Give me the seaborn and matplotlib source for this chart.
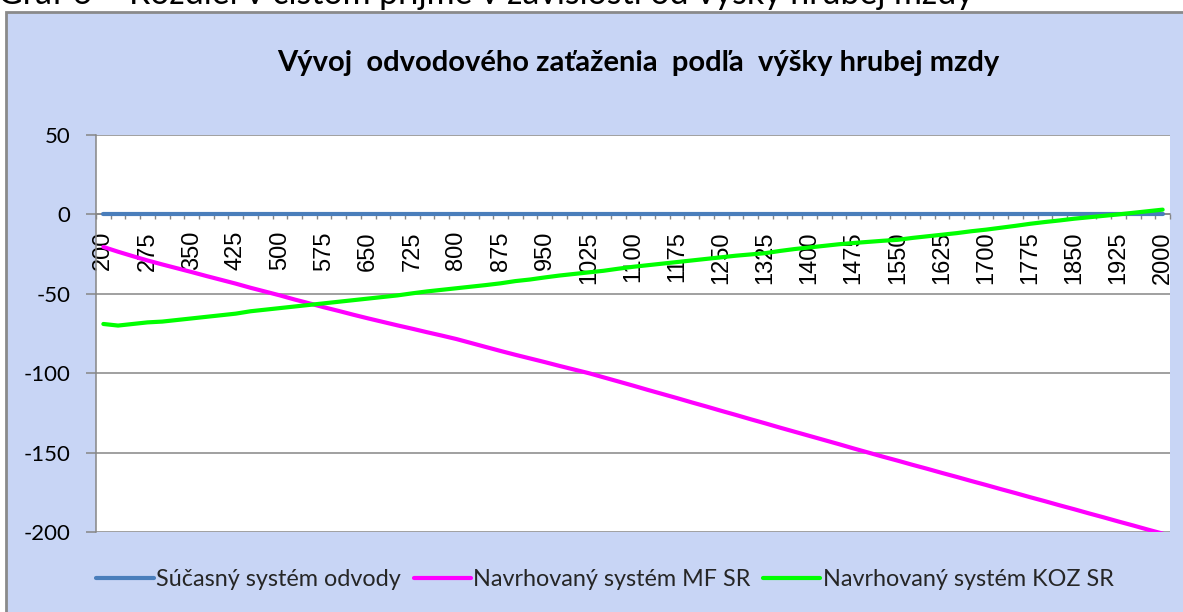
import numpy as np
import pandas as pd
import matplotlib
matplotlib.use("Agg")
import matplotlib.pyplot as plt
import seaborn as sns
from matplotlib.patches import Rectangle
from matplotlib.lines import Line2D

# ---------------- data ----------------
categories = list(range(200, 2001, 25))

current_system = [0, 0, 0, 0, 0, 0, 0, 0, 0, 0, 0, 0, 0, 0, 0, 0, 0, 0, 0, 0,
                  0, 0, 0, 0, 0, 0, 0, 0, 0, 0, 0, 0, 0, 0, 0, 0, 0, 0, 0, 0,
                  0, 0, 0, 0, 0, 0, 0, 0, 0, 0, 0, 0, 0, 0, 0, 0, 0, 0, 0, 0,
                  0, 0, 0, 0, 0, 0, 0, 0, 0, 0, 0, 0, 0]

mf_sr = [-20.5, -23.5, -26.3, -29.0, -31.5, -33.9, -36.3, -38.8, -41.2, -43.6,
         -46.2, -48.6, -51.0, -53.6, -56.0, -58.5, -60.8, -63.2, -65.5, -67.7,
         -69.9, -72.0, -74.2, -76.3, -78.5, -81.0, -83.5, -86.0, -88.4, -90.7,
         -93.0, -95.4, -97.7, -100.0, -102.6, -105.2, -107.8, -110.5, -113.1, -115.7,
         -118.4, -121.0, -123.7, -126.3, -129.0, -131.6, -134.3, -136.9, -139.5, -142.1,
         -144.7, -147.4, -150.0, -152.6, -155.1, -157.7, -160.2, -162.8, -165.3, -167.9,
         -170.4, -173.0, -175.5, -178.1, -180.6, -183.2, -185.7, -188.3, -190.8, -193.4,
         -195.9, -198.5, -201.0]

koz_sr = [-69.0, -70.0, -69.0, -68.0, -67.5, -66.5, -65.5, -64.5, -63.5, -62.5,
          -61.0, -60.0, -59.0, -58.0, -57.0, -56.0, -55.0, -54.0, -53.0, -52.0,
          -51.0, -49.7, -48.5, -47.5, -46.5, -45.5, -44.5, -43.4, -42.0, -41.0,
          -39.7, -38.5, -37.5, -36.5, -35.5, -34.2, -33.0, -32.0, -31.0, -30.0,
          -29.0, -28.0, -27.0, -26.0, -25.2, -24.4, -23.0, -21.8, -20.8, -19.8,
          -18.8, -18.0, -17.3, -16.6, -16.0, -14.8, -13.8, -12.8, -11.8, -10.6,
          -9.6, -8.4, -7.2, -5.9, -4.8, -3.8, -2.7, -1.8, -0.9, 0.0,
          1.0, 2.0, 3.0]

series_names = ["Súčasný systém odvody", "Navrhovaný systém MF SR", "Navrhovaný systém KOZ SR"]
series_colors = ["#4A7EBB", "#FF00FF", "#00FF00"]
y_ticks = [-200, -150, -100, -50, 0, 50]
label_every = 3

title = "Vývoj  odvodového zaťaženia  podľa  výšky hrubej mzdy"
top_caption = "Graf 6 – Rozdiel v čistom príjme v závislosti od výšky hrubej mzdy"

# ---------------- style ----------------
sns.set_theme(style="white")
plt.rcParams["font.family"] = ["Lato", "DejaVu Sans"]

W, H = 1183, 612
fig = plt.figure(figsize=(W / 100, H / 100), dpi=100)
fig.patch.set_facecolor("white")

bg = Rectangle((6 / W, -0.05), 1.2, (H - 12) / H + 0.05, transform=fig.transFigure,
               facecolor="#c8d5f5", edgecolor="#8a8a8a", linewidth=2.0, zorder=-10)
fig.patches.append(bg)

ax = fig.add_axes([96 / W, 1 - 532 / H, (1170 - 96) / W, (532 - 135) / H])
ax.set_zorder(5)
ax.set_facecolor("white")

pos = list(range(len(categories)))
df = pd.DataFrame({
    "pos": pos * 3,
    "value": current_system + mf_sr + koz_sr,
    "series": [series_names[0]] * len(pos) + [series_names[1]] * len(pos) + [series_names[2]] * len(pos),
})
sns.lineplot(data=df, x="pos", y="value", hue="series", hue_order=series_names,
             palette=series_colors, linewidth=3.0, ax=ax, legend=False, sort=False, zorder=3)

ax.set_xlim(-0.45, len(categories) - 0.55)
ax.set_ylim(min(y_ticks), max(y_ticks))
ax.set_xlabel("")
ax.set_ylabel("")

grid_c = "#868686"
ax.set_yticks(y_ticks)
ax.set_yticklabels([str(v) for v in y_ticks])
ax.yaxis.grid(True, color=grid_c, linewidth=1.1)
ax.xaxis.grid(False)
ax.set_axisbelow(True)

for s in ["top", "right"]:
    ax.spines[s].set_visible(False)
ax.spines["left"].set_color(grid_c)
ax.spines["left"].set_linewidth(1.1)
ax.spines["bottom"].set_position(("data", 0))
ax.spines["bottom"].set_color(grid_c)
ax.spines["bottom"].set_linewidth(1.1)

ax.tick_params(axis="y", direction="out", length=7.2, width=1.1, color=grid_c,
               labelsize=16, pad=11, labelcolor="black", left=True)

major_pos = pos[::label_every]
ax.set_xticks(major_pos)
ax.set_xticklabels([str(categories[i]) for i in major_pos], rotation=90,
                   fontfamily="Liberation Sans", fontsize=17)
ax.set_xticks([p - 0.5 for p in pos] + [pos[-1] + 0.5], minor=True)
ax.tick_params(axis="x", which="major", length=0, pad=12, labelcolor="black", bottom=True)
ax.tick_params(axis="x", which="minor", direction="out", length=3.8, width=1.0,
               color=grid_c, bottom=True)

fig.text(638 / W, 1 - 63 / H, title, ha="center", va="center",
         fontsize=21, fontweight="bold", color="black")

fig.text(-2 / W, 1 - 4 / H, top_caption, ha="left", va="baseline",
         fontsize=24.4, color="black")

handles = [Line2D([0], [0], color=c, linewidth=3.0) for c in series_colors]
fig.legend(handles, series_names, loc="center", bbox_to_anchor=(605 / W, 1 - 580 / H),
           ncol=3, frameon=False, fontsize=16.8, handlelength=2.45, columnspacing=0.55,
           handletextpad=0.1)

fig.savefig("out.png", dpi=100, facecolor=fig.get_facecolor())
